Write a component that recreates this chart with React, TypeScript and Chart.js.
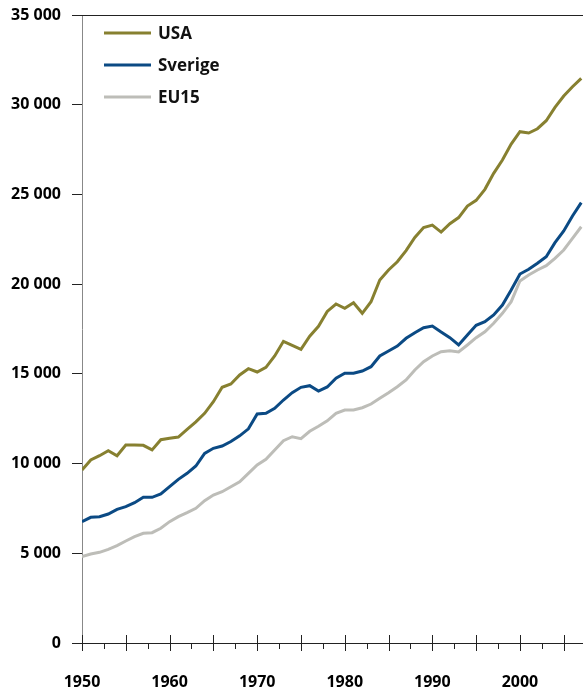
import React, { useEffect, useRef } from 'react';
import { Chart, registerables } from 'chart.js';

Chart.register(...registerables);

const years = [
  1950, 1951, 1952, 1953, 1954, 1955, 1956, 1957, 1958, 1959,
  1960, 1961, 1962, 1963, 1964, 1965, 1966, 1967, 1968, 1969,
  1970, 1971, 1972, 1973, 1974, 1975, 1976, 1977, 1978, 1979,
  1980, 1981, 1982, 1983, 1984, 1985, 1986, 1987, 1988, 1989,
  1990, 1991, 1992, 1993, 1994, 1995, 1996, 1997, 1998, 1999,
  2000, 2001, 2002, 2003, 2004, 2005, 2006, 2007,
];

const usa = [
  9641, 10199, 10438, 10717, 10438, 11035, 11035, 11018, 10760, 11330,
  11408, 11480, 11900, 12320, 12800, 13448, 14250, 14434, 14936, 15287,
  15103, 15365, 15994, 16814, 16590, 16368, 17100, 17650, 18480, 18892,
  18653, 18965, 18374, 19021, 20230, 20787, 21250, 21870, 22600, 23150,
  23290, 22900, 23370, 23710, 24354, 24671, 25284, 26176, 26917, 27809,
  28495, 28422, 28662, 29108, 29855, 30485, 31003, 31471,
];

const sverige = [
  6762, 7003, 7040, 7189, 7449, 7598, 7820, 8120, 8120, 8305,
  8710, 9121, 9455, 9864, 10571, 10850, 10979, 11230, 11545, 11935,
  12762, 12800, 13079, 13542, 13949, 14250, 14340, 14044, 14270, 14752,
  15031, 15031, 15159, 15399, 15994, 16273, 16552, 16981, 17293, 17572,
  17667, 17332, 17014, 16607, 17165, 17704, 17906, 18280, 18837, 19673,
  20564, 20826, 21161, 21528, 22309, 22961, 23797, 24540,
];

const eu15 = [
  4811, 4960, 5053, 5220, 5423, 5684, 5924, 6113, 6147, 6392,
  6762, 7040, 7263, 7507, 7930, 8248, 8432, 8710, 8989, 9455,
  9920, 10236, 10756, 11274, 11497, 11390, 11800, 12080, 12380, 12800,
  12985, 12985, 13113, 13319, 13637, 13949, 14283, 14657, 15214, 15678,
  15994, 16235, 16291, 16217, 16607, 17014, 17349, 17817, 18374, 19021,
  20174, 20509, 20787, 21027, 21440, 21902, 22554, 23200,
];

const seriesNames = ['USA', 'Sverige', 'EU15'];
const seriesColors = ['#878030', '#0B4A84', '#BDBDB8'];

const FONT = '"Open Sans", "DejaVu Sans", sans-serif';

const formatThousands = (v: number) =>
  String(v).replace(/\B(?=(\d{3})+(?!\d))/g, ' ');

const zeroPad = (s: any) => {
  s.paddingLeft = 0;
  s.paddingRight = 0;
  s.paddingTop = 0;
  s.paddingBottom = 0;
};

const axisDecor = {
  id: 'axisDecor',
  afterDatasetsDraw(chart: any) {
    const { ctx, chartArea, scales } = chart;
    const xs = scales.x;
    ctx.save();
    // top border
    ctx.strokeStyle = '#222';
    ctx.lineWidth = 1;
    ctx.beginPath();
    ctx.moveTo(chartArea.left, chartArea.top + 0.5);
    ctx.lineTo(chartArea.right, chartArea.top + 0.5);
    ctx.stroke();
    // x ticks: major every 5 years crossing the axis, minor every 2.5 below
    const bottom = chartArea.bottom;
    for (let v = xs.min; v <= xs.max + 1e-9; v += 2.5) {
      const px = Math.round(xs.getPixelForValue(v)) + 0.5;
      const major = Math.abs(v % 5) < 1e-6;
      ctx.beginPath();
      ctx.moveTo(px, major ? bottom - 8 : bottom);
      ctx.lineTo(px, major ? bottom + 8 : bottom + 6);
      ctx.stroke();
    }
    // legend
    ctx.font = `bold 17px ${FONT}`;
    ctx.textBaseline = 'middle';
    ctx.textAlign = 'left';
    chart.data.datasets.forEach((ds: any, i: number) => {
      const y = chartArea.top + 18 + i * 32;
      ctx.strokeStyle = ds.borderColor;
      ctx.lineWidth = 3;
      ctx.beginPath();
      ctx.moveTo(chartArea.left + 22, y);
      ctx.lineTo(chartArea.left + 69, y);
      ctx.stroke();
      ctx.fillStyle = '#111';
      ctx.fillText(ds.label, chartArea.left + 76, y + 1);
    });
    ctx.restore();
  },
};

export default function App() {
  const ref = useRef<HTMLCanvasElement | null>(null);

  useEffect(() => {
    if (!ref.current) return;
    const seriesValues = [usa, sverige, eu15];
    const chart = new Chart(ref.current, {
      type: 'line',
      data: {
        datasets: seriesNames.map((name, i) => ({
          label: name,
          data: years.map((yr, k) => ({ x: yr, y: seriesValues[i][k] })),
          borderColor: seriesColors[i],
          backgroundColor: seriesColors[i],
          borderWidth: 3,
          pointRadius: 0,
          tension: 0,
          fill: false,
        })),
      },
      options: {
        responsive: false,
        animation: false,
        events: [],
        layout: { padding: { top: 15, right: 0, left: 0, bottom: 0 } },
        plugins: {
          legend: { display: false },
          tooltip: { enabled: false },
        },
        scales: {
          x: {
            type: 'linear',
            min: 1950,
            max: 2007.2,
            ticks: {
              stepSize: 2.5,
              includeBounds: false,
              autoSkip: false,
              maxRotation: 0,
              minRotation: 0,
              padding: 30,
              color: '#000',
              font: { family: FONT, weight: 'bold', size: 16 },
              callback: (v: any) => (Number(v) % 10 === 0 ? String(v) : ''),
            },
            grid: { display: false, drawTicks: false },
            border: { display: true, color: '#222', width: 1 },
            afterFit: (s: any) => {
              s.height = 48;
              zeroPad(s);
            },
          },
          y: {
            min: 0,
            max: 35000,
            ticks: {
              stepSize: 5000,
              padding: 11,
              color: '#000',
              font: { family: FONT, weight: 'bold', size: 16 },
              callback: (v: any) => formatThousands(Number(v)),
            },
            grid: {
              drawOnChartArea: false,
              tickLength: 10,
              tickColor: '#222',
              color: '#222',
            },
            border: { display: true, color: '#888', width: 1 },
            afterFit: (s: any) => {
              s.width = 82;
              zeroPad(s);
            },
          },
        },
      },
      plugins: [axisDecor],
    });
    return () => chart.destroy();
  }, []);

  return (
    <div style={{ position: 'absolute', left: 0, top: 0, width: 583, height: 691, background: '#fff' }}>
      <canvas ref={ref} width={583} height={691} style={{ display: 'block' }} />
    </div>
  );
}
